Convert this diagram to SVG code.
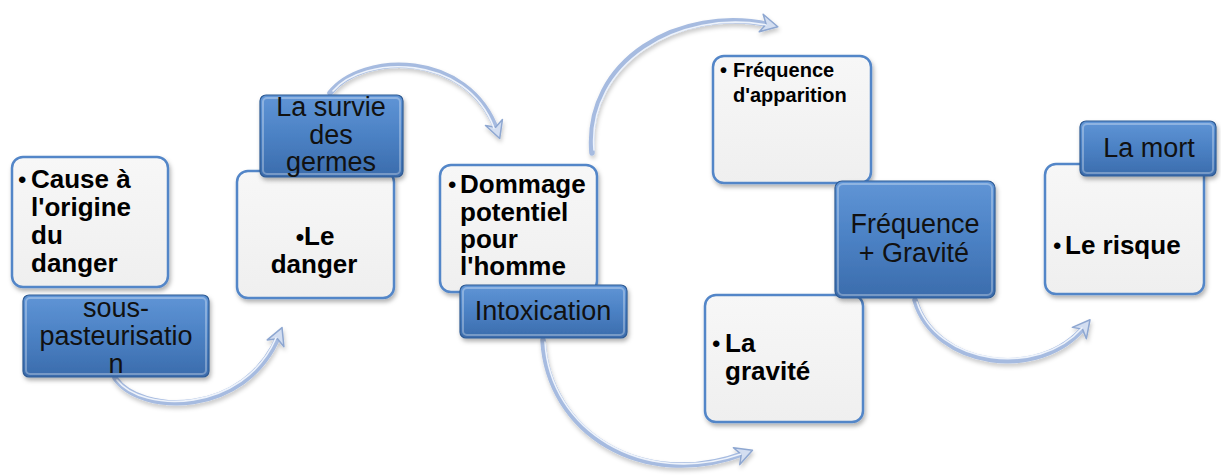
<svg xmlns="http://www.w3.org/2000/svg" width="1221" height="476" viewBox="0 0 1221 476">
  <defs>
    <linearGradient id="blueFill" x1="0" y1="0" x2="0" y2="1">
      <stop offset="0" stop-color="#6095d6"/>
      <stop offset="0.5" stop-color="#4b81c4"/>
      <stop offset="1" stop-color="#3b6cac"/>
    </linearGradient>
    <linearGradient id="whiteFill" x1="0" y1="0" x2="0" y2="1">
      <stop offset="0" stop-color="#f7f7f7"/>
      <stop offset="1" stop-color="#efefef"/>
    </linearGradient>
    <filter id="shadow" x="-20%" y="-20%" width="140%" height="150%">
      <feDropShadow dx="1.5" dy="3" stdDeviation="2.2" flood-color="#000" flood-opacity="0.3"/>
    </filter>
    <filter id="arcShadow" x="-20%" y="-20%" width="140%" height="150%">
      <feDropShadow dx="1" dy="3" stdDeviation="2" flood-color="#000" flood-opacity="0.22"/>
    </filter>
    <marker id="head" markerUnits="userSpaceOnUse" markerWidth="24" markerHeight="24" refX="12" refY="12" orient="auto">
      <path d="M3,3 L20,12 L3,21 L8,12 Z" fill="#d3def1" stroke="#8ea7d1" stroke-width="1.5" stroke-linejoin="round"/>
    </marker>
    <style>
      .box { fill: url(#whiteFill); stroke: #5386c8; stroke-width: 2.5; filter: url(#shadow); }
      .tag { fill: url(#blueFill); stroke: #2e5a93; stroke-width: 1.2; filter: url(#shadow); }
      .bevel { fill: none; stroke: #ffffff; stroke-opacity: 0.3; stroke-width: 2; }
      .arc { fill: none; stroke: #a6bbe0; stroke-width: 5.5; stroke-linecap: round; filter: url(#arcShadow); }
      .arcHi { fill: none; stroke: #eef3fb; stroke-width: 1.6; stroke-linecap: round; }
      .bold { font-family: "Liberation Sans", Arial, sans-serif; font-weight: bold; font-size: 26px; fill: #000; }
      .dot { font-family: "Liberation Sans", Arial, sans-serif; font-size: 24px; fill: #000; }
      .small { font-family: "Liberation Sans", Arial, sans-serif; font-weight: bold; font-size: 20px; fill: #000; }
      .plain { font-family: "Liberation Sans", Arial, sans-serif; font-size: 27px; fill: #111; text-anchor: middle; }
    </style>
  </defs>

  <rect width="1221" height="476" fill="#ffffff"/>

  <!-- curved arrows between the stages -->
  <g id="connectors">
    <path class="arc" d="M115,378 C140,415 245,418 279,335" marker-end="url(#head)"/>
    <path class="arcHi" d="M117,380 C142,413 243,414 276,338"/>
    <path class="arc" d="M330,93 C362,52 468,50 497,131" marker-end="url(#head)"/>
    <path class="arcHi" d="M333,91 C364,55 466,53 494,128"/>
    <path class="arc" d="M592,153 C584,60 680,5 770,25" marker-end="url(#head)"/>
    <path class="arcHi" d="M594,150 C587,63 680,9 766,25"/>
    <path class="arc" d="M543,340 C548,432 642,492 745,453" marker-end="url(#head)"/>
    <path class="arcHi" d="M545,342 C550,430 642,488 741,454"/>
    <path class="arc" d="M915,300 C935,368 1040,382 1085,326" marker-end="url(#head)"/>
    <path class="arcHi" d="M917,302 C937,365 1038,378 1082,328"/>
  </g>

  <!-- stage 1: cause -->
  <g id="node-cause">
    <rect class="box" x="12" y="157" width="156" height="130" rx="11"/>
    <text class="dot" x="18" y="188">•</text>
    <text class="bold" x="31" y="188">Cause à</text>
    <text class="bold" x="31" y="216">l'origine</text>
    <text class="bold" x="31" y="244">du</text>
    <text class="bold" x="31" y="272">danger</text>
    <rect class="tag" x="23" y="295" width="186" height="82" rx="6"/>
    <rect class="bevel" x="26" y="298" width="180" height="76" rx="4"/>
    <text class="plain" x="116" y="317">sous-</text>
    <text class="plain" x="116" y="345">pasteurisatio</text>
    <text class="plain" x="116" y="373">n</text>
  </g>

  <!-- stage 2: danger -->
  <g id="node-danger">
    <rect class="box" x="237" y="171" width="157" height="127" rx="11"/>
    <text class="bold" x="315" y="245" text-anchor="middle"><tspan class="dot">•</tspan>Le</text>
    <text class="bold" x="314" y="273" text-anchor="middle">danger</text>
    <rect class="tag" x="260" y="95" width="143" height="82" rx="6"/>
    <rect class="bevel" x="263" y="98" width="137" height="76" rx="4"/>
    <text class="plain" x="331" y="116">La survie</text>
    <text class="plain" x="331" y="144">des</text>
    <text class="plain" x="331" y="171">germes</text>
  </g>

  <!-- stage 3: potential harm -->
  <g id="node-dommage">
    <rect class="box" x="440" y="165" width="157" height="127" rx="11"/>
    <text class="dot" x="448" y="193">•</text>
    <text class="bold" x="460" y="193">Dommage</text>
    <text class="bold" x="460" y="221">potentiel</text>
    <text class="bold" x="460" y="248">pour</text>
    <text class="bold" x="460" y="275">l'homme</text>
    <rect class="tag" x="460" y="285" width="167" height="53" rx="6"/>
    <rect class="bevel" x="463" y="288" width="161" height="47" rx="4"/>
    <text class="plain" x="543" y="320">Intoxication</text>
  </g>

  <!-- stage 4: frequency and severity -->
  <g id="node-frequence">
    <rect class="box" x="713" y="56" width="158" height="127" rx="11"/>
    <text class="small" x="720" y="77">•</text>
    <text class="small" x="733" y="77">Fréquence</text>
    <text class="small" x="733" y="102">d'apparition</text>
    <rect class="box" x="705" y="295" width="158" height="127" rx="11"/>
    <text class="dot" x="712" y="352">•</text>
    <text class="bold" x="725" y="352">La</text>
    <text class="bold" x="725" y="380">gravité</text>
    <rect class="tag" x="835" y="181" width="160" height="117" rx="7"/>
    <rect class="bevel" x="838" y="184" width="154" height="111" rx="5"/>
    <text class="plain" x="915" y="233">Fréquence</text>
    <text class="plain" x="914" y="262">+ Gravité</text>
  </g>

  <!-- stage 5: risk -->
  <g id="node-risque">
    <rect class="box" x="1045" y="164" width="159" height="130" rx="11"/>
    <text class="dot" x="1053" y="254">•</text>
    <text class="bold" x="1065" y="254">Le risque</text>
    <rect class="tag" x="1080" y="121" width="136" height="55" rx="6"/>
    <rect class="bevel" x="1083" y="124" width="130" height="49" rx="4"/>
    <text class="plain" x="1149" y="157">La mort</text>
  </g>
</svg>
